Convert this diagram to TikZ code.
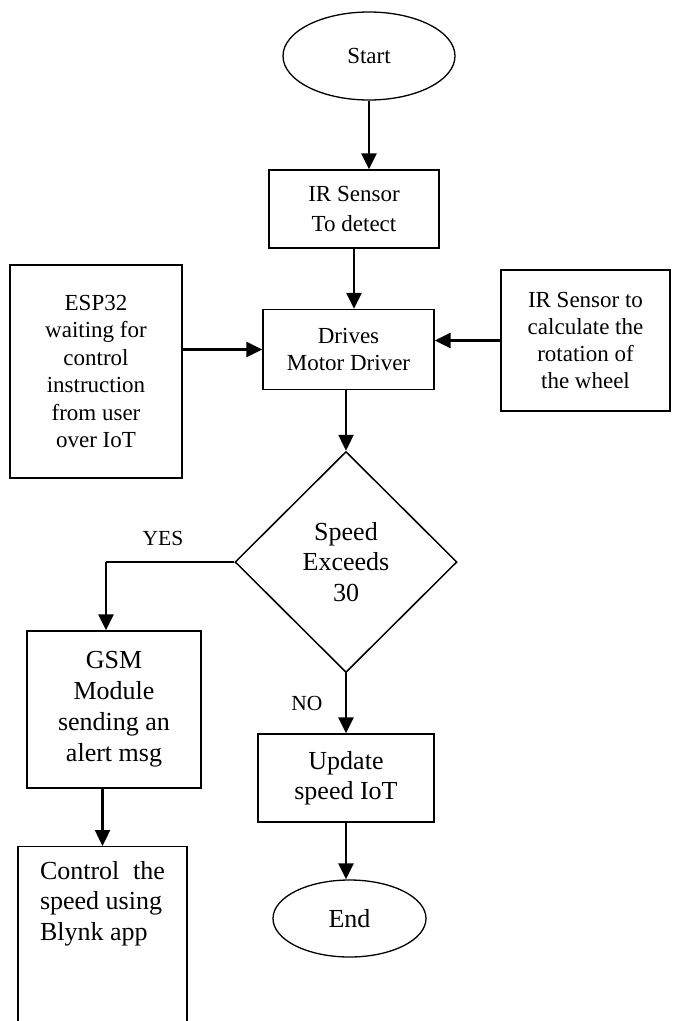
\documentclass[tikz,border=0pt]{standalone}
\usepackage{fontspec}
\setmainfont{Liberation Serif}
\usetikzlibrary{shapes.geometric,arrows.meta}

\tikzset{
    block/.style={draw, rectangle, line width=1.3pt, inner sep=0pt, align=center},
    term/.style={draw, ellipse, line width=1.3pt, inner sep=0pt},
    decision/.style={draw, diamond, line width=1.5pt, inner sep=0pt, align=center},
    flow/.style={line width=2.4pt, -{Triangle[length=16pt,width=15pt]}},
    small/.style={font=\fontsize{23}{27.5}\selectfont},
    big/.style={font=\fontsize{26}{30.5}\selectfont},
    tag/.style={font=\fontsize{21.5}{25}\selectfont}
}

\begin{document}
\begin{tikzpicture}[x=1pt,y=-1pt]
        \useasboundingbox (0,0) rectangle (673,1021);

        \node[term, small, minimum width=172pt, minimum height=88pt] (start) at (369,56) {Start};
        \node[block, font=\fontsize{23}{30}\selectfont, minimum width=170pt, minimum height=78pt] (irtop) at (354,209) {IR Sensor\\To detect};
        \node[block, small, font=\fontsize{23}{27}\selectfont, minimum width=171pt, minimum height=80pt] (drives) at (348.5,349.5) {Drives\\Motor Driver};

        \node[block, small, minimum width=172pt, minimum height=213pt] (esp) at (96,371.5)
            {ESP32\\waiting for\\control\\instruction\\from user\\over IoT};
        \node[block, small, font=\fontsize{23}{27}\selectfont, minimum width=169pt, minimum height=141pt] (wheel) at (585.5,340.5)
            {IR Sensor to\\calculate the\\rotation of\\the wheel};

        %%%
        \node[decision, big, minimum width=222pt, minimum height=221pt] (speed) at (346,562) {Speed\\Exceeds\\30};
        \coordinate (yesbend) at (106,562);
        \node[tag] (yes) at (163,538) {YES};
        \node[tag] (no) at (307,703) {NO};

        \node[block, big, font=\fontsize{26}{31}\selectfont, minimum width=174pt, minimum height=157pt] (gsm) at (114,709.5)
            {GSM\\Module\\sending an\\alert msg};
        \node[block, minimum width=169pt, minimum height=200pt, anchor=north] (blynk) at (102.5,846) {};
        \node[big, align=left] (blynktxt) at (102.5,903.5)
            {\makebox[125pt][s]{Control the}\\speed using\\Blynk app};

        \node[block, big, font=\fontsize{26}{30}\selectfont, minimum width=176pt, minimum height=88pt] (update) at (346,778) {Update\\speed IoT};
        \node[term, big, minimum width=153pt, minimum height=77pt] (stop) at (349.5,918.5) {End};

        %%%
        \draw[flow] (start) -- (start |- irtop.north);
        \draw[flow] (irtop) -- (irtop |- drives.north);
        \draw[flow] (esp.east |- drives.west) -- (drives);
        \draw[flow] (wheel.west) -- (wheel.west -| drives.east);
        \draw[flow] (drives.south -| speed.north) -- (speed.north);

        \draw[line width=1.6pt] (speed.west) -- (yesbend);
        \draw[flow] (yesbend) -- (yesbend |- gsm.north);
        \draw[flow] (gsm.south -| blynk.north) -- (blynk.north);

        \draw[flow] (speed.south) -- (speed.south |- update.north);
        \draw[flow] (update) -- (update |- stop.north);
\end{tikzpicture}
\end{document}
